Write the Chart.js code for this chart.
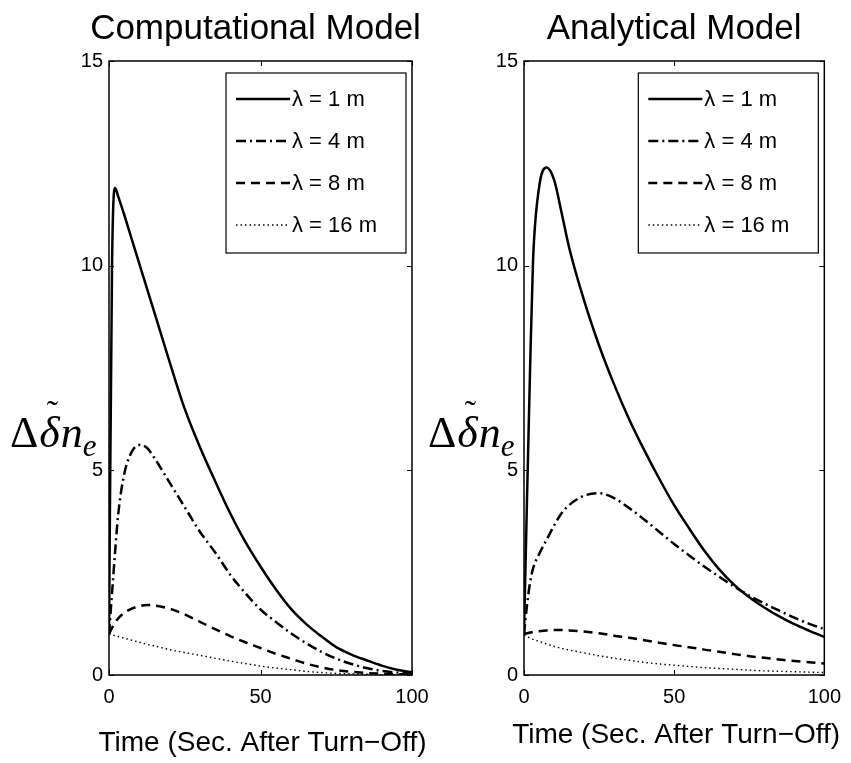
<!DOCTYPE html>
<html>
<head>
<meta charset="utf-8">
<script src="https://cdn.jsdelivr.net/npm/chart.js@4.4.1/dist/chart.umd.min.js"></script>
<style>
  body { margin: 0; background: #fff; }
  #wrap { position: relative; width: 851px; height: 763px; }
  canvas { position: absolute; left: 0; top: 0; }
</style>
</head>
<body>
<div id="wrap">
  <canvas id="leftChart" width="851" height="763"></canvas>
  <canvas id="rightChart" width="851" height="763"></canvas>
</div>
<script>
// time samples (seconds after turn-off)
const timeSec = [0, 1, 2, 3, 5, 7.5, 10, 12.5, 15, 20, 25, 30, 35, 40, 45, 50, 55, 60, 65, 70, 75, 80, 85, 90, 95, 100];

// Computational model
const compL1  = [1.0, 10.0, 11.9, 11.7, 11.25, 10.65, 10.05, 9.45, 8.85, 7.65, 6.5, 5.57, 4.74, 3.95, 3.25, 2.65, 2.1, 1.62, 1.25, 0.95, 0.68, 0.5, 0.36, 0.23, 0.13, 0.07];
const compL4  = [1.0, 2.0, 3.0, 3.9, 4.9, 5.45, 5.62, 5.55, 5.3, 4.7, 4.1, 3.5, 3.0, 2.45, 2.0, 1.6, 1.3, 1.02, 0.78, 0.57, 0.4, 0.27, 0.17, 0.1, 0.06, 0.04];
const compL8  = [1.0, 1.15, 1.28, 1.38, 1.52, 1.62, 1.68, 1.71, 1.7, 1.62, 1.48, 1.3, 1.12, 0.95, 0.8, 0.66, 0.52, 0.4, 0.28, 0.19, 0.12, 0.08, 0.05, 0.03, 0.02, 0.01];
const compL16 = [1.0, 0.98, 0.96, 0.94, 0.9, 0.85, 0.8, 0.75, 0.71, 0.62, 0.55, 0.48, 0.41, 0.34, 0.28, 0.22, 0.17, 0.13, 0.09, 0.06, 0.04, 0.03, 0.02, 0.01, 0.01, 0.0];

// Analytical model
const anaL1  = [1.0, 4.3, 7.4, 10.1, 11.9, 12.4, 12.1, 11.3, 10.45, 9.15, 8.05, 7.1, 6.25, 5.5, 4.8, 4.15, 3.58, 3.04, 2.58, 2.2, 1.9, 1.65, 1.43, 1.24, 1.08, 0.93];
const anaL4  = [1.0, 1.7, 2.25, 2.6, 2.95, 3.3, 3.65, 3.95, 4.15, 4.38, 4.44, 4.32, 4.08, 3.8, 3.5, 3.2, 2.92, 2.65, 2.4, 2.16, 1.94, 1.75, 1.57, 1.4, 1.25, 1.12];
const anaL8  = [1.0, 1.02, 1.04, 1.05, 1.07, 1.09, 1.1, 1.1, 1.09, 1.06, 1.02, 0.96, 0.91, 0.85, 0.79, 0.73, 0.68, 0.62, 0.57, 0.51, 0.46, 0.42, 0.38, 0.34, 0.31, 0.28];
const anaL16 = [0.97, 0.94, 0.9, 0.87, 0.82, 0.76, 0.7, 0.65, 0.61, 0.54, 0.47, 0.41, 0.36, 0.31, 0.27, 0.24, 0.21, 0.18, 0.16, 0.14, 0.12, 0.1, 0.09, 0.08, 0.07, 0.06];

const legendLabels = ["\u03BB = 1 m", "\u03BB = 4 m", "\u03BB = 8 m", "\u03BB = 16 m"];
const xTicks = [0, 50, 100];
const yTicks = [0, 5, 10, 15];

const lineStyles = [
  { width: 2.5, dash: [] },
  { width: 2.5, dash: [10, 4, 2, 4] },
  { width: 2.5, dash: [9, 6] },
  { width: 1.4, dash: [1.5, 3] }
];

const SANS = "'Liberation Sans', Arial, sans-serif";
const SERIF = "'Liberation Serif', 'DejaVu Serif', serif";

// draws box, inward ticks, titles, y label and legend
const decorPlugin = {
  id: "decor",
  afterDraw(chart, args, opts) {
    const ctx = chart.ctx;
    const a = chart.chartArea;
    const xs = chart.scales.x, ys = chart.scales.y;
    ctx.save();
    ctx.strokeStyle = "#000";
    ctx.lineWidth = 1.5;
    ctx.setLineDash([]);
    ctx.strokeRect(a.left, a.top, a.right - a.left, a.bottom - a.top);
    ctx.lineWidth = 1;
    ctx.beginPath();
    xTicks.forEach(v => {
      const px = Math.round(xs.getPixelForValue(v)) + 0.5;
      ctx.moveTo(px, a.bottom); ctx.lineTo(px, a.bottom - 5);
      ctx.moveTo(px, a.top); ctx.lineTo(px, a.top + 5);
    });
    yTicks.forEach(v => {
      const py = Math.round(ys.getPixelForValue(v)) + 0.5;
      ctx.moveTo(a.left, py); ctx.lineTo(a.left + 5, py);
      ctx.moveTo(a.right, py); ctx.lineTo(a.right - 5, py);
    });
    ctx.stroke();

    // title
    ctx.fillStyle = "#000";
    ctx.textAlign = "center";
    ctx.textBaseline = "middle";
    ctx.font = "35px " + SANS;
    ctx.fillText(opts.title, (a.left + a.right) / 2 + opts.titleShift, 29);

    // x label
    ctx.font = "28px " + SANS;
    ctx.fillText("Time (Sec. After Turn\u2212Off)", (a.left + a.right) / 2 + 2, opts.xLabelY);

    // y label: Delta delta-tilde n_e
    ctx.textAlign = "left";
    ctx.textBaseline = "alphabetic";
    let x = opts.yLabelX;
    const base = 447;
    ctx.font = "44px " + SERIF;
    ctx.fillText("\u0394", x, base);
    x += ctx.measureText("\u0394").width + 1;
    ctx.font = "italic 44px " + SERIF;
    const dw = ctx.measureText("\u03B4").width;
    ctx.fillText("\u03B4", x, base);
    ctx.textAlign = "center";
    ctx.font = "34px " + SERIF;
    ctx.fillText("\u02DC", x + dw / 2 + 3, base - 23);
    ctx.textAlign = "left";
    x += dw + 1;
    ctx.font = "italic 44px " + SERIF;
    ctx.fillText("n", x, base);
    x += ctx.measureText("n").width;
    ctx.font = "italic 31px " + SERIF;
    ctx.fillText("e", x, base + 9);

    // legend
    const lw = 180, lh = 180;
    const lx = a.right - 6 - lw, ly = a.top + 12;
    ctx.fillStyle = "#fff";
    ctx.fillRect(lx, ly, lw, lh);
    ctx.lineWidth = 1.2;
    ctx.strokeStyle = "#000";
    ctx.strokeRect(lx, ly, lw, lh);
    ctx.font = "22px " + SANS;
    ctx.textBaseline = "middle";
    legendLabels.forEach((lab, i) => {
      const yy = ly + 26 + i * 42;
      ctx.lineWidth = lineStyles[i].width;
      ctx.setLineDash(lineStyles[i].dash);
      ctx.beginPath();
      ctx.moveTo(lx + 10, yy);
      ctx.lineTo(lx + 64, yy);
      ctx.stroke();
      ctx.setLineDash([]);
      ctx.fillStyle = "#000";
      ctx.fillText(lab, lx + 66, yy + 1);
    });
    ctx.restore();
  }
};

function makeChart(id, series, title, padLeft, padRight, xLabelY, yLabelX, titleShift) {
  const datasets = series.map((vals, i) => ({
    label: legendLabels[i],
    data: vals.map((v, k) => ({ x: timeSec[k], y: v })),
    borderColor: "#000",
    borderWidth: lineStyles[i].width,
    borderDash: lineStyles[i].dash,
    pointRadius: 0,
    fill: false,
    cubicInterpolationMode: "monotone"
  }));
  return new Chart(document.getElementById(id), {
    type: "line",
    data: { datasets },
    plugins: [decorPlugin],
    options: {
      responsive: false,
      animation: false,
      layout: { padding: { left: padLeft, right: padRight, top: 61, bottom: 48 } },
      plugins: {
        legend: { display: false },
        tooltip: { enabled: false },
        decor: { title, xLabelY, yLabelX, titleShift }
      },
      scales: {
        x: {
          type: "linear", min: 0, max: 100,
          afterBuildTicks: s => { s.ticks = xTicks.map(v => ({ value: v })); },
          afterFit: s => { s.height = 40; },
          grid: { display: false, drawTicks: false },
          border: { display: false },
          ticks: { color: "#000", font: { family: SANS, size: 20 }, padding: 10, maxRotation: 0 }
        },
        y: {
          type: "linear", min: 0, max: 15,
          afterBuildTicks: s => { s.ticks = yTicks.map(v => ({ value: v })); },
          afterFit: s => { s.width = 50; },
          grid: { display: false, drawTicks: false },
          border: { display: false },
          ticks: { color: "#000", font: { family: SANS, size: 20 }, padding: 6 }
        }
      }
    }
  });
}

makeChart("leftChart", [compL1, compL4, compL8, compL16], "Computational Model", 59, 439, 743, 10, -5);
makeChart("rightChart", [anaL1, anaL4, anaL8, anaL16], "Analytical Model", 474, 24, 735, 428, 0);
</script>
</body>
</html>
